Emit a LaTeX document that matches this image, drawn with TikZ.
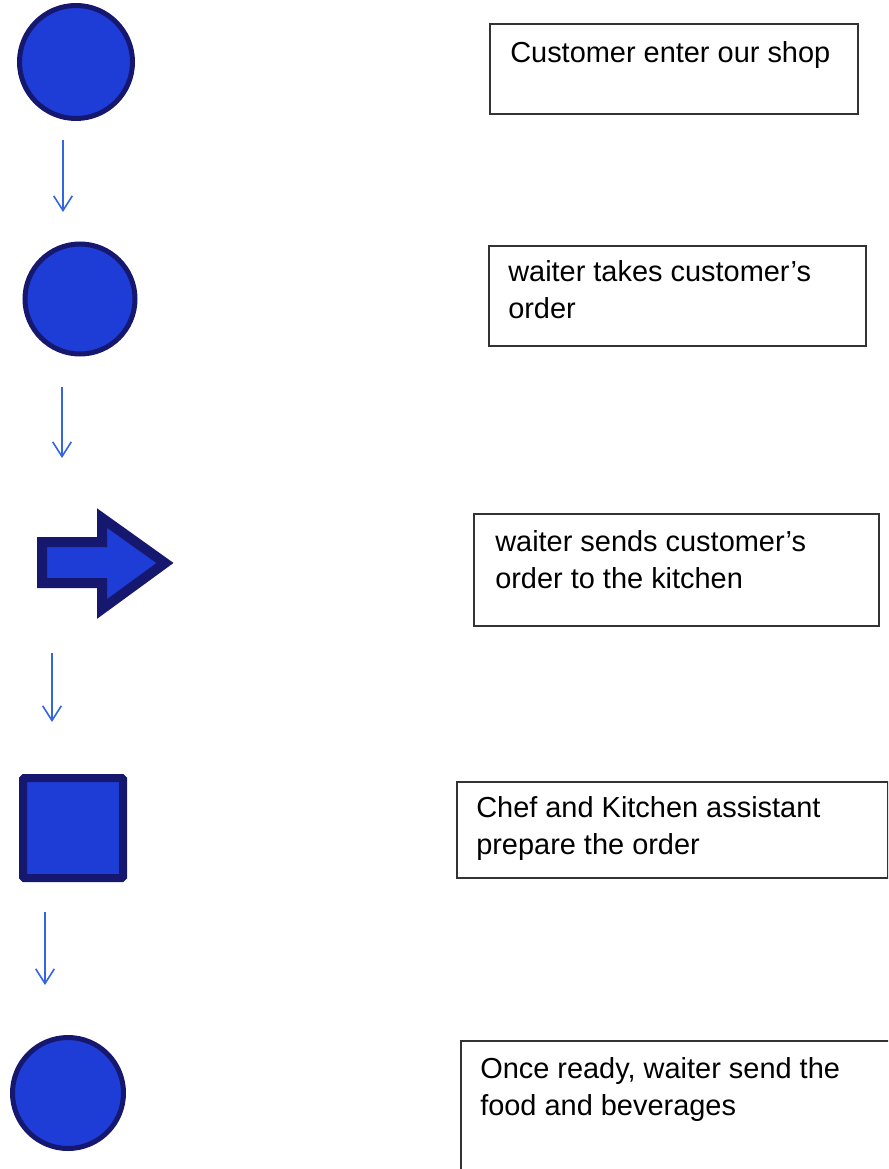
\documentclass[tikz,border=0pt]{standalone}
\usepackage{fontspec}
\setmainfont{Liberation Sans}
\usetikzlibrary{arrows.meta}
\definecolor{shapeblue}{RGB}{30,60,214}
\definecolor{shapeedge}{RGB}{22,24,112}
\definecolor{flowblue}{RGB}{52,102,228}
\tikzset{
  disc/.style    = {circle, draw=shapeedge, line width=3.75pt, fill=shapeblue, inner sep=0, minimum size=#1},
  blockbox/.style= {rectangle, draw=shapeedge, line width=6pt, fill=shapeblue, inner sep=0, minimum size=75pt, rounded corners=1pt},
  blockarr/.style= {draw=shapeedge, line width=7.5pt, fill=shapeblue, line join=miter},
  flow/.style    = {draw=flowblue, line width=1.2pt, -{Straight Barb[length=11pt, width=14pt, line width=1.2pt]}},
  stepbox/.style = {rectangle, draw=black!80, line width=1.2pt, anchor=north west, inner sep=0},
  et/.style      = {anchor=base west, align=left, inner sep=0, font=\fontsize{21.7pt}{27.75pt}\selectfont}
}
\begin{document}
\begin{tikzpicture}[x=0.75pt, y=-0.75pt]
  \useasboundingbox (0,0) rectangle (888,1169);
  \clip (0,0) rectangle (888,1169);
  % shapes on the left
  \node[disc=84.75pt] (c1) at (76,62) {};
  \node[disc=82.5pt]  (c2) at (80,299) {};
  \draw[blockarr] (42,542) -- (102,542) -- (102,518) -- (165,563) -- (102,609) -- (102,583) -- (42,583) -- cycle;
  \node[blockbox]     (sq) at (73,828) {};
  \node[disc=83.25pt] (c3) at (68,1093) {};
  % flow arrows
  \coordinate (a1) at (63,140); \coordinate (e1) at (63,212); \draw[flow] (a1) -- (e1);
  \coordinate (a2) at (62,387); \coordinate (e2) at (62,458); \draw[flow] (a2) -- (e2);
  \coordinate (a3) at (52,653); \coordinate (e3) at (52,722); \draw[flow] (a3) -- (e3);
  \coordinate (a4) at (45,912); \coordinate (e4) at (45,985); \draw[flow] (a4) -- (e4);
  % boxes on the right (text base = last line)
  \node[stepbox, minimum width=276pt,    minimum height=67.5pt]  (b1) at (489,23)  {};
  \node[stepbox, minimum width=282.75pt, minimum height=75pt]    (b2) at (488,245) {};
  \node[stepbox, minimum width=303.75pt, minimum height=84pt]    (b3) at (473,513) {};
  \node[stepbox, minimum width=323.25pt, minimum height=72pt]    (b4) at (456,781) {};
  \node[stepbox, minimum width=330pt,    minimum height=112.5pt] (b5) at (460,1040) {};
  \node[et] (t1) at (510,63)   {Customer enter our shop};
  \node[et] (t2) at (508,318)  {waiter takes customer’s\\order};
  \node[et] (t3) at (495,588)  {waiter sends customer’s\\order to the kitchen};
  \node[et] (t4) at (476,854)  {Chef and Kitchen assistant\\prepare the order};
  \node[et] (t5) at (480,1115) {Once ready, waiter send the\\food and beverages};
\end{tikzpicture}
\end{document}
